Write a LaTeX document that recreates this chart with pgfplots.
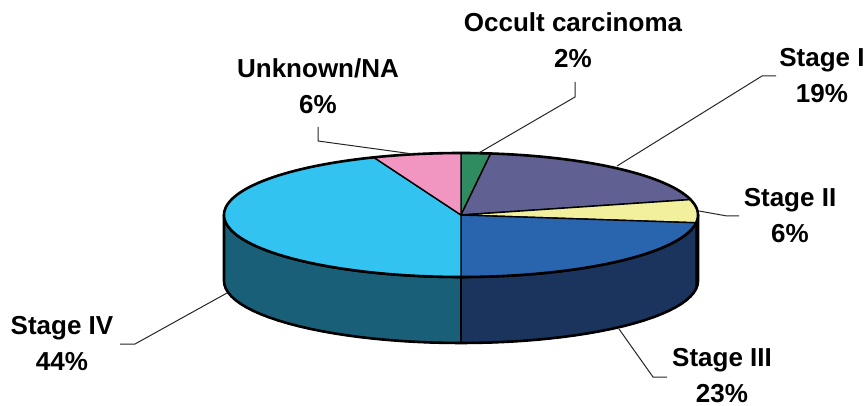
\documentclass[border=0pt]{standalone}
\usepackage{pgfplots}
\usepackage{pgfplotstable}
\pgfplotsset{compat=1.18}
\usepackage{fontspec}
\setmainfont{Liberation Sans}
\definecolor{cOcc}{HTML}{2E8C60}
\definecolor{cI}{HTML}{606092}
\definecolor{cII}{HTML}{F2F09C}
\definecolor{cIIs}{HTML}{A8A66C}
\definecolor{cIII}{HTML}{2964AE}
\definecolor{cIIIs}{HTML}{1B345E}
\definecolor{cIV}{HTML}{33C3F0}
\definecolor{cIVs}{HTML}{1A5F78}
\definecolor{cUnk}{HTML}{F096C0}

\pgfplotstableread{
name pct
Occult 2
StageI 19
StageII 6
StageIII 23
StageIV 44
Unknown 6
}\piedata

\newcommand\getpct[2]{\pgfplotstablegetelem{#1}{pct}\of\piedata\let#2\pgfplotsretval}
\getpct{0}\pA \getpct{1}\pB \getpct{2}\pC \getpct{3}\pD \getpct{4}\pE \getpct{5}\pF
\pgfmathsetmacro\aA{0}
\pgfmathsetmacro\aB{\aA+3.6*\pA}
\pgfmathsetmacro\aC{\aB+3.6*\pB}
\pgfmathsetmacro\aD{\aC+3.6*\pC}
\pgfmathsetmacro\aE{\aD+3.6*\pD}
\pgfmathsetmacro\aF{\aE+3.6*\pE}
\pgfmathsetmacro\aG{\aF+3.6*\pF}

\def\cx{461}\def\cy{215}\def\rx{237}\def\ry{62}\def\dd{66}

% top sector
\newcommand\topsector[3]{%
  \addplot[fill=#1, draw=black, line width=0.7pt, domain=#2:#3, samples=80, line join=round]
    ({\cx+\rx*sin(x)},{\cy-\ry*cos(x)}) -- (axis cs:\cx,\cy) -- cycle;}
% side piece from angle #2 to #3
\newcommand\sidepiece[3]{%
  \addplot[fill=#1, draw=black, line width=0.8pt, domain=0:3, samples=151, line join=round]
    ({\cx+\rx*sin(#2+(#3-#2)*min(x,1)-(#3-#2)*max(x-2,0))},
     {\cy-\ry*cos(#2+(#3-#2)*min(x,1)-(#3-#2)*max(x-2,0))+\dd-\dd*min(max(x-1,0),1)}) -- cycle;}

\begin{document}
\begin{tikzpicture}
\begin{axis}[
  scale only axis, width=433.5pt, height=203pt,
  xmin=0, xmax=867, ymin=0, ymax=406, y dir=reverse,
  axis lines=none, clip=false,
  font=\bfseries\fontsize{13}{18}\selectfont,
]
% sides
\sidepiece{cIIs}{90}{\aD}
\sidepiece{cIIIs}{\aD}{\aE}
\sidepiece{cIVs}{\aE}{270}
% outer side outline
\addplot[draw=black, line width=1.3pt, domain=0:3, samples=151, line join=round]
    ({\cx+\rx*sin(90+180*min(x,1)-180*max(x-2,0))},
     {\cy-\ry*cos(90+180*min(x,1)-180*max(x-2,0))+\dd-\dd*min(max(x-1,0),1)}) -- cycle;
% top sectors
\topsector{cOcc}{\aA}{\aB}
\topsector{cI}{\aB}{\aC}
\topsector{cII}{\aC}{\aD}
\topsector{cIII}{\aD}{\aE}
\topsector{cIV}{\aE}{\aF}
\topsector{cUnk}{\aF}{\aG}
% top outline
\addplot[draw=black, line width=1.3pt, domain=0:360, samples=181]
    ({\cx+\rx*sin(x)},{\cy-\ry*cos(x)}) -- cycle;
% leader lines
\draw[black!85, line width=0.5pt] (axis cs:575,82) -- (axis cs:575,97) -- (axis cs:477,154);
\draw[black!85, line width=0.5pt] (axis cs:776,76) -- (axis cs:762,76) -- (axis cs:617,166);
\draw[black!85, line width=0.5pt] (axis cs:739,216) -- (axis cs:727,216) -- (axis cs:699,211);
\draw[black!85, line width=0.5pt] (axis cs:667,377) -- (axis cs:653,377) -- (axis cs:619,329);
\draw[black!85, line width=0.5pt] (axis cs:120,344) -- (axis cs:135,344) -- (axis cs:227,293);
\draw[black!85, line width=0.5pt] (axis cs:318,127) -- (axis cs:318,141) -- (axis cs:413,154);
% labels
\node[align=center, inner sep=0pt] at (axis cs:573,40) {Occult carcinoma\\2\%};
\node[align=center, inner sep=0pt] at (axis cs:822,75.5) {Stage I\\19\%};
\node[align=center, inner sep=0pt] at (axis cs:790,215.5) {Stage II\\6\%};
\node[align=center, inner sep=0pt] at (axis cs:722,375.5) {Stage III\\23\%};
\node[align=center, inner sep=0pt] at (axis cs:62,343.5) {Stage IV\\44\%};
\node[align=center, inner sep=0pt] at (axis cs:318,86.5) {Unknown/NA\\6\%};
\end{axis}
\pgfresetboundingbox
\path[use as bounding box] (current axis.south west) rectangle (current axis.north east);
\end{tikzpicture}
\end{document}
